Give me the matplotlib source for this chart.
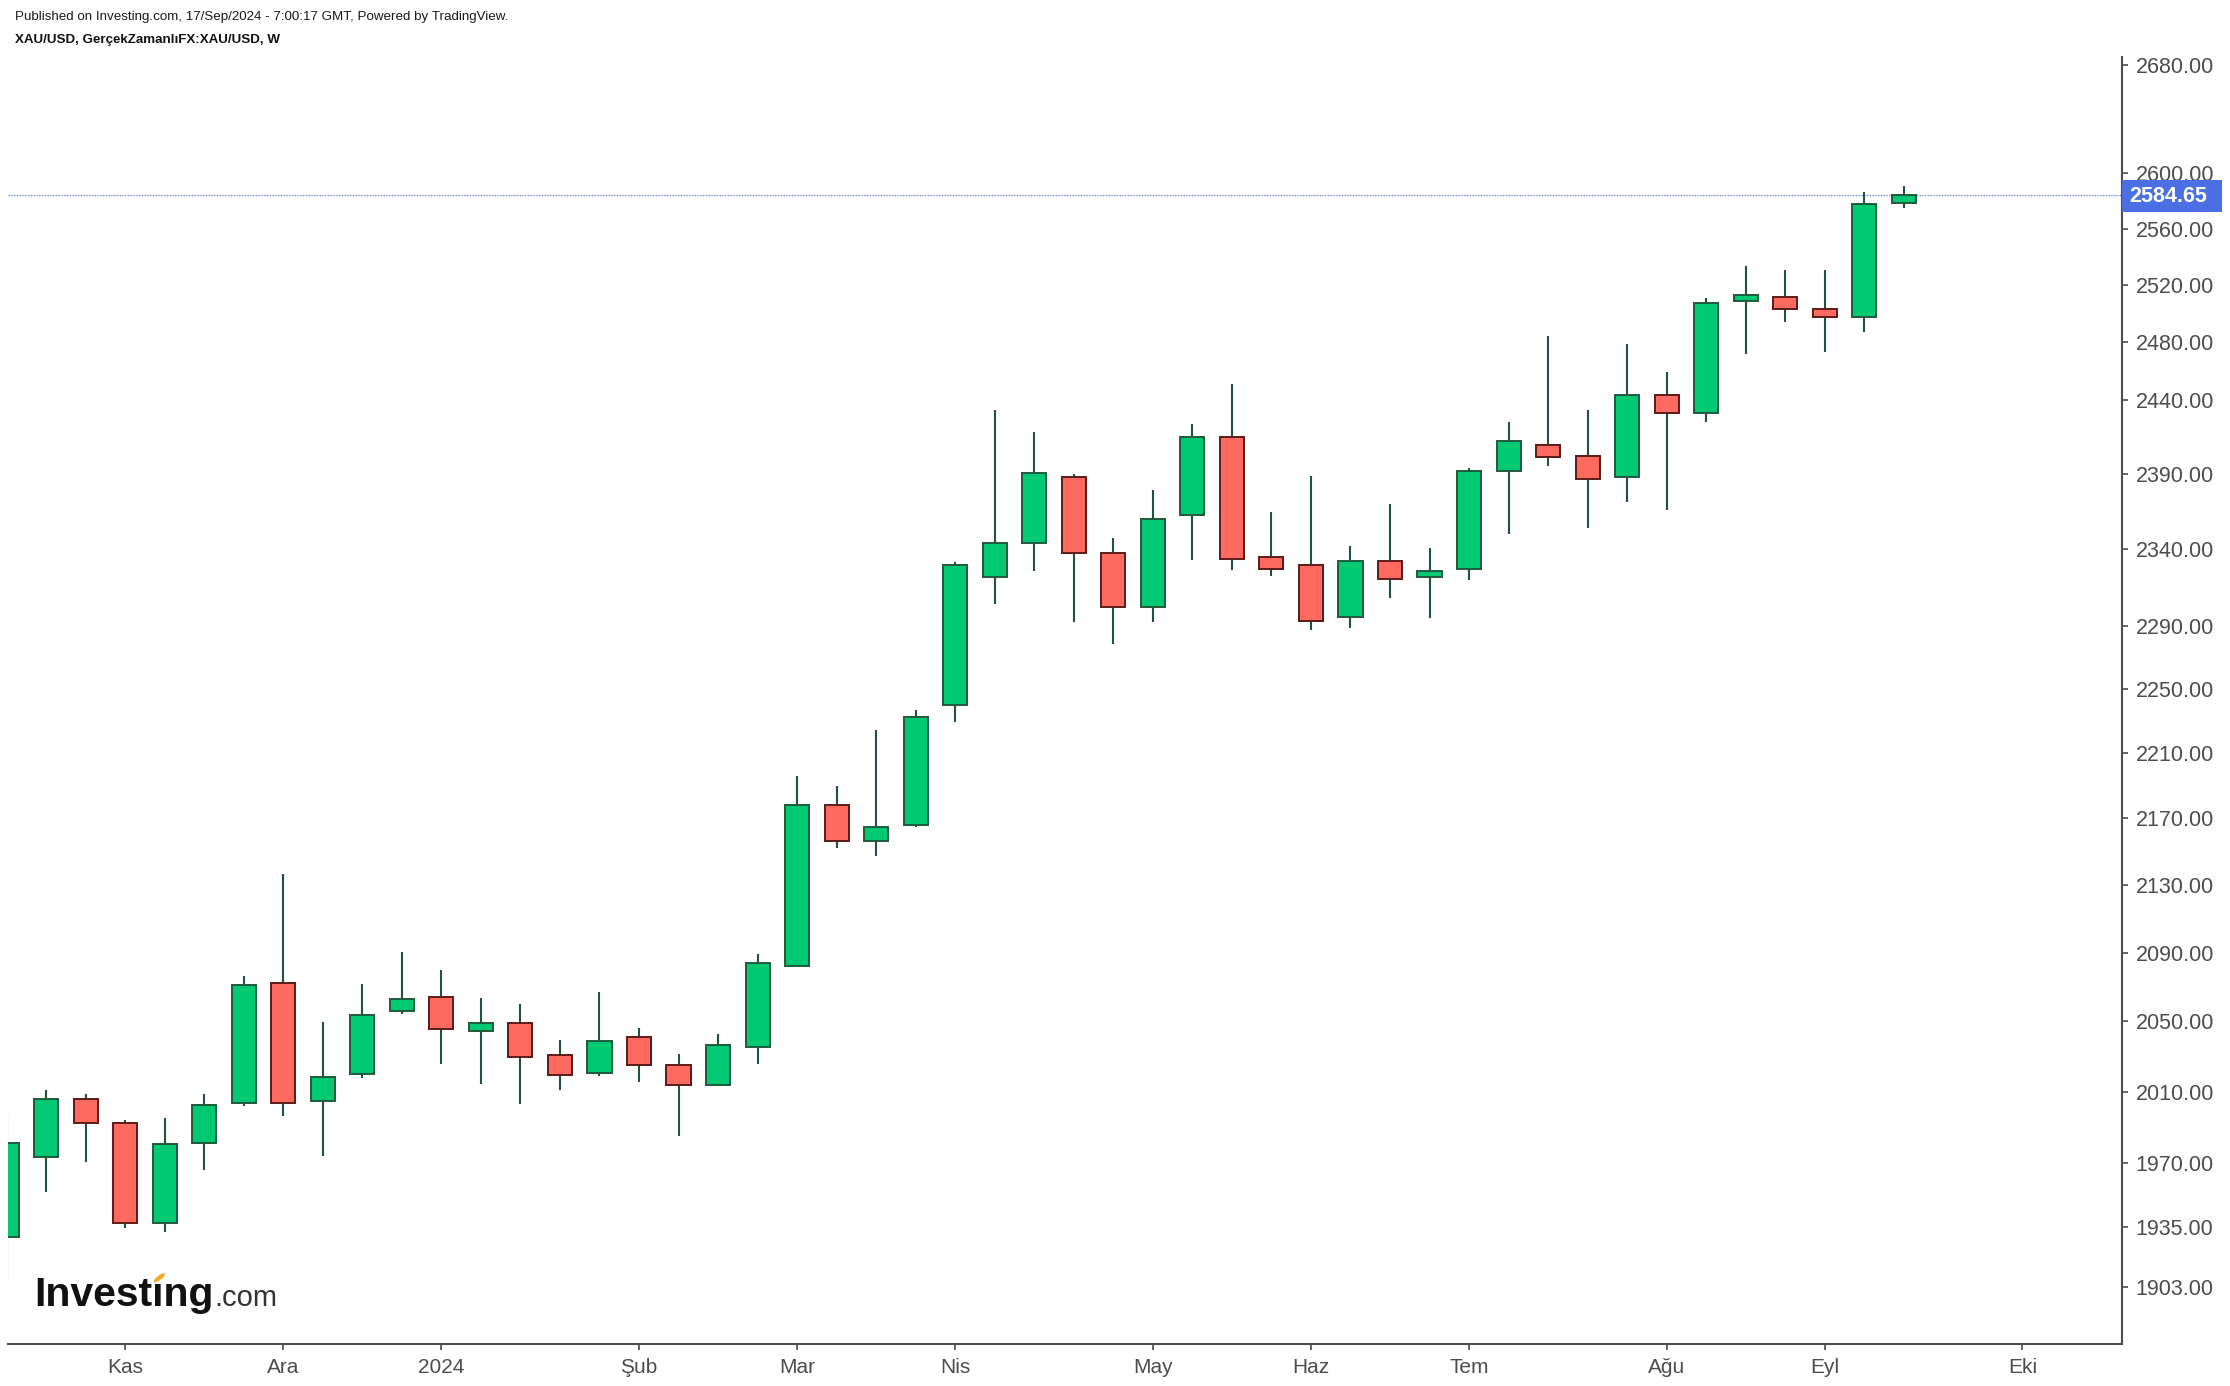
import matplotlib
matplotlib.use("Agg")
import matplotlib.pyplot as plt
import matplotlib.dates as mdates
from matplotlib.ticker import FixedLocator, FixedFormatter, NullLocator
from matplotlib.patches import Rectangle, Ellipse
import numpy as np
import datetime as dt

# ---- data (weekly XAU/USD candles, week start dates) ----
week_start = "2023-10-16"
opens = [1929.6, 1973.6, 2006.1, 1992.6, 1937.2, 1981.3, 2003.5, 2072.3, 2004.6, 2020.3,
         2055.8, 2064.2, 2044.5, 2049.2, 2031.0, 2020.5, 2041.2, 2025.2, 2013.6, 2035.2,
         2082.4, 2178.5, 2156.2, 2165.9, 2240.0, 2321.8, 2344.2, 2388.2, 2337.9, 2302.4,
         2362.7, 2415.1, 2335.2, 2330.0, 2295.9, 2332.6, 2322.0, 2327.0, 2392.0, 2409.7,
         2401.9, 2388.0, 2443.7, 2431.0, 2508.5, 2511.8, 2503.3, 2497.3, 2578.6]
highs = [1997.0, 2011.0, 2008.7, 1994.1, 1995.3, 2008.7, 2076.3, 2136.5, 2049.7, 2071.6,
         2090.2, 2079.7, 2063.4, 2060.0, 2039.4, 2066.9, 2046.2, 2031.3, 2042.8, 2089.1,
         2196.0, 2189.9, 2224.5, 2237.0, 2331.8, 2433.3, 2418.3, 2390.0, 2347.5, 2379.3,
         2423.7, 2451.1, 2364.7, 2388.7, 2342.3, 2370.0, 2341.0, 2394.0, 2425.1, 2484.3,
         2433.3, 2478.7, 2459.3, 2510.9, 2533.5, 2530.6, 2530.6, 2586.6, 2590.9]
lows = [1908.0, 1954.5, 1970.8, 1934.8, 1932.7, 1966.4, 2002.1, 1996.4, 1974.3, 2017.7,
        2054.4, 2025.8, 2014.5, 2003.2, 2011.1, 2019.0, 2015.6, 1985.3, 2013.0, 2025.7,
        2081.3, 2152.4, 2147.6, 2164.7, 2229.7, 2304.5, 2325.7, 2293.1, 2279.0, 2293.1,
        2333.3, 2326.7, 2322.8, 2288.0, 2289.3, 2308.4, 2295.5, 2320.0, 2350.4, 2395.6,
        2354.3, 2371.5, 2366.2, 2425.3, 2472.0, 2494.3, 2473.3, 2487.3, 2575.2]
closes = [1981.5, 2006.1, 1992.3, 1937.2, 1980.6, 2002.7, 2071.2, 2003.5, 2018.5, 2053.9,
          2063.1, 2045.6, 2049.2, 2029.7, 2019.2, 2038.9, 2025.1, 2013.8, 2036.7, 2084.0,
          2178.5, 2156.2, 2165.1, 2232.8, 2330.0, 2344.4, 2390.9, 2337.7, 2302.4, 2360.3,
          2415.1, 2333.7, 2327.2, 2293.5, 2332.6, 2320.5, 2326.1, 2392.3, 2412.4, 2401.2,
          2386.5, 2443.7, 2431.0, 2507.6, 2513.2, 2502.9, 2497.3, 2577.7, 2584.65]
last_price = 2584.65

month_tick_dates = ["2023-11-06", "2023-12-04", "2024-01-01", "2024-02-05", "2024-03-04",
                    "2024-04-01", "2024-05-06", "2024-06-03", "2024-07-01", "2024-08-05",
                    "2024-09-02", "2024-10-07"]
month_tick_labels = ["Kas", "Ara", "2024", "Şub", "Mar", "Nis", "May", "Haz", "Tem", "Ağu", "Eyl", "Eki"]

price_ticks = [1903, 1935, 1970, 2010, 2050, 2090, 2130, 2170, 2210, 2250, 2290,
               2340, 2390, 2440, 2480, 2520, 2560, 2600, 2680]

# ---- figure ----
W, H = 2230, 1386
fig = plt.figure(figsize=(W / 100, H / 100), dpi=100)
fig.patch.set_facecolor("white")

ax_l, ax_r, ax_t, ax_b = 8, 2122, 57, 1344
ax = fig.add_axes([ax_l / W, 1 - ax_b / H, (ax_r - ax_l) / W, (ax_b - ax_t) / H])

start = dt.date.fromisoformat(week_start)
dates = [start + dt.timedelta(weeks=i) for i in range(len(opens))]
x = mdates.date2num(dates)
o = np.array(opens); c = np.array(closes); hi = np.array(highs); lo = np.array(lows)
up = c >= o

green_fill = "#00c873"
red_fill = "#ff6a60"
green_edge = "#1f5a3b"
red_edge = "#5c1a18"
wick_col = "#1d5538"

ax.vlines(x, lo, hi, color=wick_col, linewidth=1.5, zorder=2)
bw = 0.61 * 7
bottoms = np.minimum(o, c)
heights = np.abs(c - o)
ax.bar(x[up], heights[up], bottom=bottoms[up], width=bw, color=green_fill,
       edgecolor=green_edge, linewidth=1.4, zorder=3)
ax.bar(x[~up], heights[~up], bottom=bottoms[~up], width=bw, color=red_fill,
       edgecolor=red_edge, linewidth=1.4, zorder=3)

ax.set_yscale("log")
ax.set_ylim(1872.8, 2686.3)
x0 = mdates.date2num(start)
ax.set_xlim(x0 + 0.035 * 7, x0 + 53.52 * 7)

# current price line
ax.axhline(last_price, color="#6a8ae6", linewidth=1.0, linestyle=(0, (1, 1)), zorder=1)

# axes styling
for s in ["top", "left"]:
    ax.spines[s].set_visible(False)
for s in ["right", "bottom"]:
    ax.spines[s].set_color("#4d4d4d")
    ax.spines[s].set_linewidth(1.5)

ax.yaxis.tick_right()
ax.yaxis.set_major_locator(FixedLocator(price_ticks))
ax.yaxis.set_major_formatter(FixedFormatter([f"{v:.2f}" for v in price_ticks]))
ax.yaxis.set_minor_locator(NullLocator())
ax.tick_params(axis="y", which="major", direction="out", length=4.3, width=1.2,
               color="#4d4d4d", pad=5.5, labelsize=15.5, labelcolor="#4d4d4d")
for lab in ax.get_yticklabels():
    lab.set_family(["Liberation Sans", "DejaVu Sans"])

ax.xaxis.set_major_locator(FixedLocator(mdates.date2num([dt.date.fromisoformat(d) for d in month_tick_dates])))
ax.xaxis.set_major_formatter(FixedFormatter(month_tick_labels))
ax.xaxis.set_minor_locator(NullLocator())
ax.tick_params(axis="x", which="major", direction="out", length=4.3, width=1.2,
               color="#4d4d4d", pad=6, labelsize=15, labelcolor="#4d4d4d")
for lab in ax.get_xticklabels():
    lab.set_family(["Liberation Sans Narrow", "Liberation Sans", "DejaVu Sans"])

# price label box
box_y0, box_y1 = 180, 212
fig.patches.append(Rectangle((ax_r / W, 1 - box_y1 / H), (2222 - ax_r) / W, (box_y1 - box_y0) / H,
                             transform=fig.transFigure, facecolor="#4a70e3", edgecolor="none",
                             zorder=9))
fig.text((ax_r + 7) / W, 1 - 196 / H, f"{last_price:.2f}", ha="left", va="center",
         color="white", fontsize=15.5, fontweight="bold",
         family=["Liberation Sans", "DejaVu Sans"], zorder=10)

# header
fig.text(15 / W, 1 - 17 / H,
         "Published on Investing.com, 17/Sep/2024 - 7:00:17 GMT, Powered by TradingView.",
         ha="left", va="center", fontsize=9.6, color="#1a1a1a",
         family=["Liberation Sans Narrow", "Liberation Sans", "DejaVu Sans"])
fig.text(15 / W, 1 - 40 / H, "XAU/USD, GerçekZamanlıFX:XAU/USD, W",
         ha="left", va="center", fontsize=9.6, color="#111111", fontweight="bold",
         family=["Liberation Sans Narrow", "Liberation Sans", "DejaVu Sans"])

# logo
logo_fs = 29.5
base_y = 1 - 1306.5 / H
t_inv = fig.text(34 / W, base_y, "Investing", ha="left", va="baseline", fontsize=logo_fs,
                 fontweight="bold", color="#111111", family=["Liberation Sans", "DejaVu Sans"])
fig.canvas.draw()
r = fig.canvas.get_renderer()
bb = t_inv.get_window_extent(r)
fig.text((bb.x1 + 1) / W, base_y, ".com", ha="left", va="baseline", fontsize=21,
         color="#333333", family=["Liberation Sans", "DejaVu Sans"])
# orange leaf replacing the dot of the second "i"
tmp = fig.text(34 / W, base_y, "Invest", ha="left", va="baseline", fontsize=logo_fs,
               fontweight="bold", family=["Liberation Sans", "DejaVu Sans"])
tmp_i = fig.text(34 / W, base_y, "i", ha="left", va="baseline", fontsize=logo_fs,
                 fontweight="bold", family=["Liberation Sans", "DejaVu Sans"])
w_invest = tmp.get_window_extent(r).width
w_i = tmp_i.get_window_extent(r).width
tmp.remove(); tmp_i.remove()
em = logo_fs * 100 / 72
cx = 34 + w_invest + w_i / 2
base_px = 1386 - 1306.5
fig.patches.append(Rectangle(((cx - w_i * 0.5) / W, (base_px + 0.56 * em) / H), w_i / W, 0.2 * em / H,
                             transform=fig.transFigure, facecolor="white", edgecolor="none", zorder=5))
fig.patches.append(Ellipse(((cx + 1.5) / W, (base_px + 0.70 * em) / H), 5.5 / W, 11 / H, angle=-35,
                           transform=fig.transFigure, facecolor="#f5a623", edgecolor="none", zorder=6))

fig.savefig("out.png", dpi=100, facecolor="white")
